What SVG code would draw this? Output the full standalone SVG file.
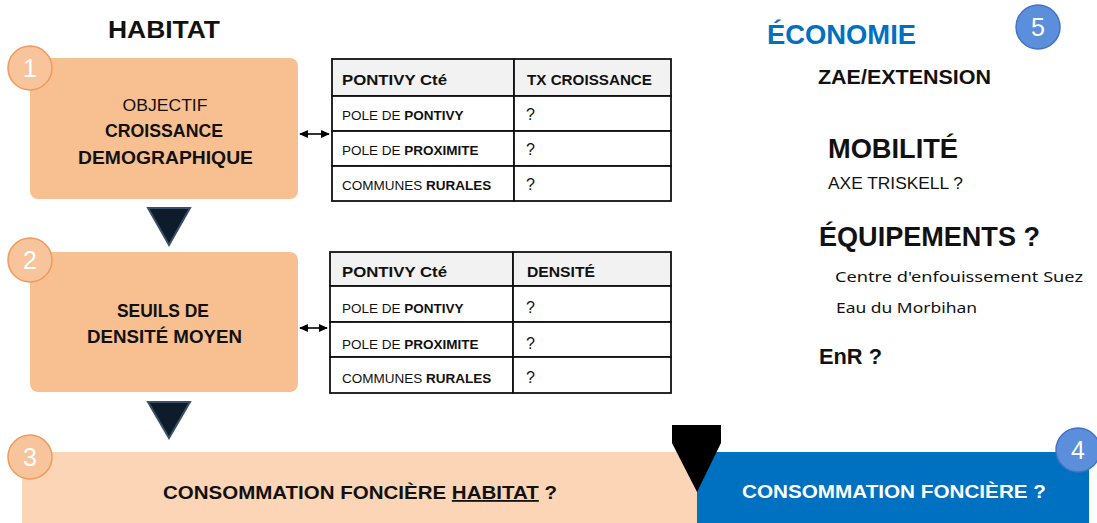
<svg xmlns="http://www.w3.org/2000/svg" width="1097" height="523" viewBox="0 0 1097 523">
<defs>
<style>
text{font-family:"Liberation Sans",Arial,sans-serif;fill:#111}
.b{font-weight:bold}
.box{fill:#F8C091}
.oc{fill:#F8C49C;stroke:#EE9B5C;stroke-width:1.5}
.bc{fill:#5B8FDB;stroke:#4472C4;stroke-width:1.5}
.num{fill:#fff;font-size:25px;text-anchor:middle}
.tri{fill:#0D1B2A;stroke:#3A5068;stroke-width:2}
.cell{fill:#fff;stroke:#111;stroke-width:1.8}
.hd{fill:#F2F2F2;stroke:#111;stroke-width:1.8}
.th{font-size:15px;font-weight:bold}
.td{font-size:13.5px}
.q{font-size:16px}
.conn{stroke:#000;stroke-width:1.6;fill:none}
.seg{font-family:"Noto Sans","Open Sans",sans-serif;font-size:15px}
</style>
<marker id="ah" viewBox="0 0 10 10" refX="9" refY="5" markerWidth="5.5" markerHeight="5.5" orient="auto-start-reverse"><path d="M0,0.5 L10,5 L0,9.5 Z" fill="#000"/></marker>
</defs>
<rect width="1097" height="523" fill="#fff"/>

<text x="108" y="38" class="b" font-size="24" textLength="112" lengthAdjust="spacingAndGlyphs">HABITAT</text>

<g id="node1">
<rect class="box" x="30" y="58" width="268" height="141" rx="8"/>
<text x="165" y="111" font-size="17" text-anchor="middle" textLength="85" lengthAdjust="spacingAndGlyphs" fill="#222">OBJECTIF</text>
<text x="164" y="137" class="b" font-size="19" text-anchor="middle" textLength="118" lengthAdjust="spacingAndGlyphs">CROISSANCE</text>
<text x="165.5" y="164" class="b" font-size="19" text-anchor="middle" textLength="175" lengthAdjust="spacingAndGlyphs">DEMOGRAPHIQUE</text>
<circle class="oc" cx="30" cy="68" r="22"/>
<text class="num" x="30" y="77">1</text>
</g>

<g id="table1">
<rect class="hd" x="332" y="59" width="182" height="37"/>
<rect class="hd" x="514" y="59" width="157" height="37"/>
<rect class="cell" x="332" y="96" width="182" height="35"/>
<rect class="cell" x="514" y="96" width="157" height="35"/>
<rect class="cell" x="332" y="131" width="182" height="35"/>
<rect class="cell" x="514" y="131" width="157" height="35"/>
<rect class="cell" x="332" y="166" width="182" height="35"/>
<rect class="cell" x="514" y="166" width="157" height="35"/>
<text class="th" x="342" y="85" textLength="105" lengthAdjust="spacingAndGlyphs">PONTIVY Cté</text>
<text class="th" x="527" y="85" textLength="125" lengthAdjust="spacingAndGlyphs">TX CROISSANCE</text>
<text class="td" x="342" y="120">POLE DE <tspan class="b">PONTIVY</tspan></text>
<text class="td" x="342" y="155">POLE DE <tspan class="b">PROXIMITE</tspan></text>
<text class="td" x="342" y="190">COMMUNES <tspan class="b">RURALES</tspan></text>
<text class="q" x="526" y="120">?</text>
<text class="q" x="526" y="155">?</text>
<text class="q" x="526" y="190">?</text>
</g>

<g id="node2">
<rect class="box" x="30" y="252" width="268" height="140" rx="8"/>
<text x="163" y="317" class="b" font-size="19" text-anchor="middle" textLength="92" lengthAdjust="spacingAndGlyphs">SEUILS DE</text>
<text x="164.5" y="343" class="b" font-size="19" text-anchor="middle" textLength="155" lengthAdjust="spacingAndGlyphs">DENSITÉ MOYEN</text>
<circle class="oc" cx="30" cy="260" r="22"/>
<text class="num" x="30" y="269">2</text>
</g>

<g id="table2">
<rect class="hd" x="330" y="252" width="183" height="34"/>
<rect class="hd" x="513" y="252" width="158" height="34"/>
<rect class="cell" x="330" y="286" width="183" height="36"/>
<rect class="cell" x="513" y="286" width="158" height="36"/>
<rect class="cell" x="330" y="322" width="183" height="35"/>
<rect class="cell" x="513" y="322" width="158" height="35"/>
<rect class="cell" x="330" y="357" width="183" height="36"/>
<rect class="cell" x="513" y="357" width="158" height="36"/>
<text class="th" x="342" y="277" textLength="105" lengthAdjust="spacingAndGlyphs">PONTIVY Cté</text>
<text class="th" x="527" y="277" textLength="68" lengthAdjust="spacingAndGlyphs">DENSITÉ</text>
<text class="td" x="342" y="313">POLE DE <tspan class="b">PONTIVY</tspan></text>
<text class="td" x="342" y="349">POLE DE <tspan class="b">PROXIMITE</tspan></text>
<text class="td" x="342" y="383">COMMUNES <tspan class="b">RURALES</tspan></text>
<text class="q" x="526" y="313">?</text>
<text class="q" x="526" y="349">?</text>
<text class="q" x="526" y="383">?</text>
</g>

<g id="node3">
<rect x="22" y="452" width="676" height="71" fill="#FBD5B5"/>
<text x="163" y="499" class="b" font-size="18" textLength="394" lengthAdjust="spacingAndGlyphs">CONSOMMATION FONCIÈRE <tspan text-decoration="underline">HABITAT</tspan> ?</text>
<circle class="oc" cx="30" cy="457" r="22"/>
<text class="num" x="30" y="466">3</text>
</g>

<g id="node4">
<rect x="697" y="452" width="392" height="71" fill="#0070C0"/>
<text x="742" y="498" class="b" font-size="18" style="fill:#fff" textLength="304" lengthAdjust="spacingAndGlyphs">CONSOMMATION FONCIÈRE ?</text>
<circle class="bc" cx="1078" cy="450" r="22"/>
<text class="num" x="1078" y="459">4</text>
</g>

<g id="node5">
<text x="767" y="44" class="b" font-size="27" style="fill:#0070C0" textLength="149" lengthAdjust="spacingAndGlyphs">ÉCONOMIE</text>
<circle class="bc" cx="1038" cy="27" r="22"/>
<text class="num" x="1038" y="36">5</text>
<text x="818" y="84" class="b" font-size="20" textLength="173" lengthAdjust="spacingAndGlyphs">ZAE/EXTENSION</text>
<text x="828" y="158" class="b" font-size="27" textLength="130" lengthAdjust="spacingAndGlyphs">MOBILITÉ</text>
<text x="828" y="189" font-size="17" textLength="135" lengthAdjust="spacingAndGlyphs" fill="#222">AXE TRISKELL ?</text>
<text x="819" y="246" class="b" font-size="28" textLength="221" lengthAdjust="spacingAndGlyphs">ÉQUIPEMENTS ?</text>
<text x="835" y="282" class="seg" textLength="248" lengthAdjust="spacingAndGlyphs">Centre d'enfouissement Suez</text>
<text x="836" y="313" class="seg" textLength="141" lengthAdjust="spacingAndGlyphs">Eau du Morbihan</text>
<text x="819" y="364" class="b" font-size="22" textLength="63" lengthAdjust="spacingAndGlyphs">EnR ?</text>
</g>

<g id="connectors">
<line class="conn" x1="300" y1="134" x2="329" y2="134" marker-start="url(#ah)" marker-end="url(#ah)"/>
<line class="conn" x1="300" y1="328" x2="327" y2="328" marker-start="url(#ah)" marker-end="url(#ah)"/>
<polygon class="tri" points="148,208 190,208 169,245"/>
<polygon class="tri" points="148,402 190,402 169,438"/>
<polygon points="672,425 721,425 721,443 697,492 672,443" fill="#000"/>
</g>
</svg>
